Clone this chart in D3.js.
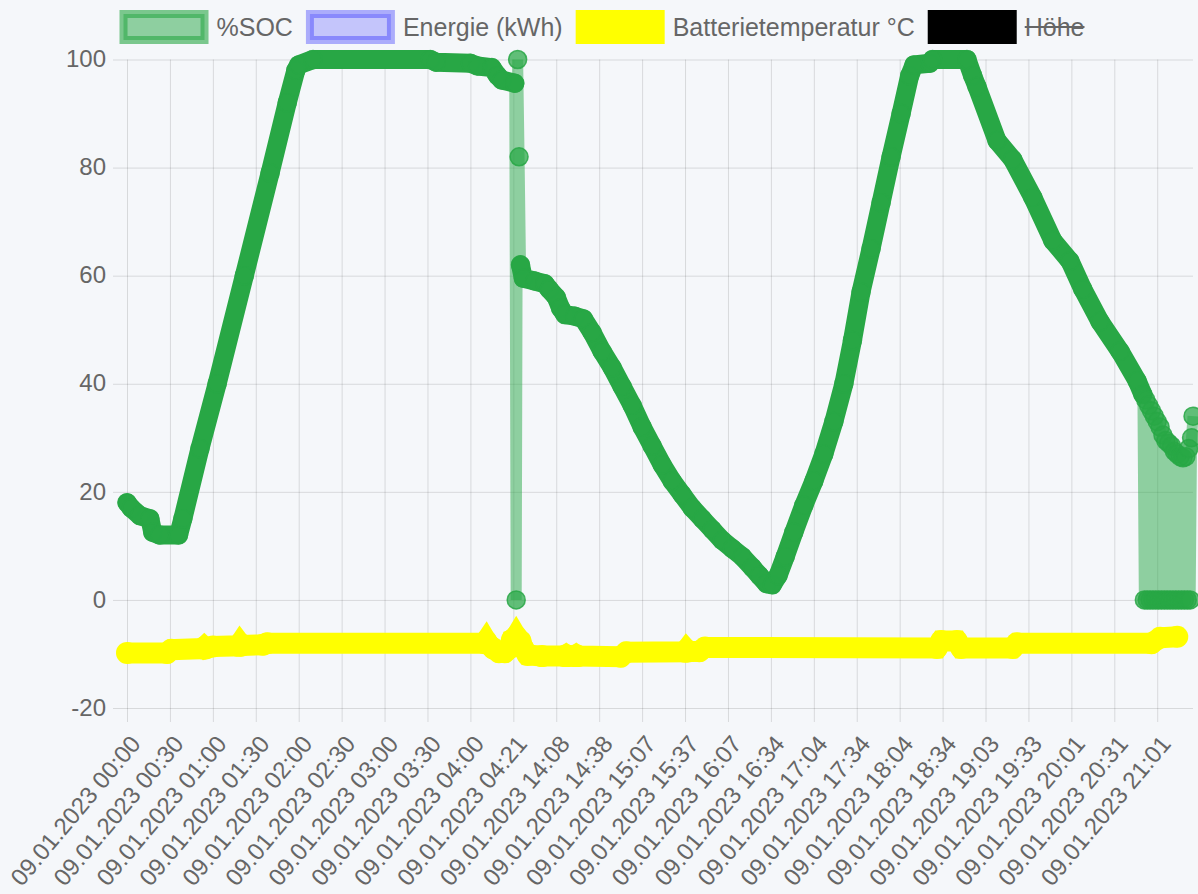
<!DOCTYPE html>
<html>
<head>
<meta charset="utf-8">
<script src="https://cdn.jsdelivr.net/npm/d3@7"></script>
<style>
	body { margin: 0; background: #f5f7fa; }
	svg { display: block; font-family: "Liberation Sans", Arial, sans-serif; }
</style>
</head>
<body>
<div id="chart"></div>
<script>
// x labels shown on the category axis (every 30th sample)
const tickLabels = [
	"09.01.2023 00:00", "09.01.2023 00:30", "09.01.2023 01:00", "09.01.2023 01:30",
	"09.01.2023 02:00", "09.01.2023 02:30", "09.01.2023 03:00", "09.01.2023 03:30",
	"09.01.2023 04:00", "09.01.2023 04:21", "09.01.2023 14:08", "09.01.2023 14:38",
	"09.01.2023 15:07", "09.01.2023 15:37", "09.01.2023 16:07", "09.01.2023 16:34",
	"09.01.2023 17:04", "09.01.2023 17:34", "09.01.2023 18:04", "09.01.2023 18:34",
	"09.01.2023 19:03", "09.01.2023 19:33", "09.01.2023 20:01", "09.01.2023 20:31",
	"09.01.2023 21:01"
];
const tickStep = 30;
const lastIndex = 745;
const yTicks = [-20, 0, 20, 40, 60, 80, 100];

const seriesNames = ["%SOC", "Energie (kWh)", "Batterietemperatur °C", "Höhe"];
const hiddenSeries = ["Höhe"];

// %SOC readings: [sample index, value]
const socPoints = [
	[0, 18], [3, 17], [9, 15.6], [16, 15], [18, 12.5], [23, 12], [36, 12], [39, 15],
	[51, 28], [63, 40], [82, 60], [100, 79], [112, 92], [118, 98], [120, 99], [130, 100],
	[212, 100], [216, 99.5], [240, 99.3], [245, 98.8], [255, 98.5], [259, 97], [262, 96.2], [271, 95.6],
	[272, 0], [273, 100], [274, 82], [275, 62],
	[277, 59.5], [285, 59], [292, 58.5], [295, 57.5], [300, 56], [303, 54], [306, 52.8], [313, 52.5],
	[319, 52], [325, 49.5], [332, 46], [339, 43], [346, 39.5], [353, 36], [360, 32], [367, 28.5],
	[374, 25], [381, 22], [388, 19.5], [395, 17], [402, 15], [409, 13], [416, 11], [423, 9.5],
	[430, 8], [437, 6], [442, 4.5], [447, 3], [451, 2.8], [455, 4.5], [460, 8], [466, 12.5],
	[473, 17.5], [480, 22], [487, 27], [494, 33], [501, 40], [507, 48], [513, 57], [520, 65],
	[527, 73.5], [534, 82], [541, 90], [547, 97], [550, 99], [561, 99.3], [563, 100], [587, 100],
	[591, 97], [594, 95], [608, 85], [619, 81.5], [633, 74.5], [647, 66.5], [659, 62.7], [668, 57.5],
	[680, 51.5], [694, 46], [706, 40.5], [710, 38],
	[711, 0], [712, 37], [713, 0], [714, 36], [715, 0], [716, 35], [717, 0], [718, 34],
	[719, 0], [720, 33], [721, 0], [722, 32], [723, 0], [724, 30.5], [725, 0], [726, 29.5],
	[727, 0], [728, 29], [729, 0], [730, 28.5], [731, 0], [732, 27.5], [733, 0], [734, 27],
	[735, 0], [736, 26.5], [737, 0], [738, 26.3], [739, 0], [740, 26.5], [741, 0], [742, 28],
	[743, 0], [744, 30], [745, 34]
];

// Batterietemperatur readings: [sample index, value]
const tempPoints = [
	[0, -9.8], [28, -9.8], [31, -9.2], [53, -9.0], [54, -8.75], [55, -9.0], [60, -8.6], [78, -8.5],
	[79, -8.1], [80, -8.45], [95, -8.3], [98, -8.0], [250, -8.0], [251, -7.6], [252, -8.05], [256, -9.0],
	[260, -9.7], [264, -9.7], [267, -9.0], [269, -7.4], [271, -7.2], [272, -6.75], [273, -7.2], [275, -7.6],
	[277, -9.0], [280, -10.2], [290, -10.4], [306, -10.4], [307, -10.22], [308, -10.4], [313, -10.4], [314, -10.22],
	[315, -10.4], [345, -10.5], [349, -9.7], [390, -9.6], [391, -9.25], [392, -9.55], [400, -9.5], [404, -8.8],
	[566, -8.9], [569, -7.6], [580, -7.6], [583, -8.9], [619, -8.9], [622, -8.0], [716, -8.0], [722, -7.0],
	[734, -6.8]
];

const legendStyles = [
	{ fill: "rgba(40,167,69,0.5)", stroke: "rgba(40,167,69,0.6)" },
	{ fill: "rgba(0,0,255,0.2)", stroke: "rgba(0,0,255,0.3)" },
	{ fill: "#ffff00", stroke: "#ffff00" },
	{ fill: "#000000", stroke: "#000000" }
];

const W = 1198, H = 894;
const margin = { top: 59.5, right: 5, bottom: 186, left: 127 };
const tickLen = 14;
const textColor = "#666";
const gridColor = "rgba(0,0,0,0.12)";
const axisFont = 24;
const legendFont = 25;

const svg = d3.select("#chart").append("svg")
	.attr("width", W)
	.attr("height", H);

svg.append("rect").attr("width", W).attr("height", H).attr("fill", "#f5f7fa");

const x = d3.scaleLinear().domain([0, lastIndex]).range([margin.left, W - margin.right]);
const y = d3.scaleLinear().domain([-20, 100]).range([H - margin.bottom, margin.top]);
const tickIdx = tickLabels.map((d, i) => i * tickStep);
const plotBottom = H - margin.bottom;

// grid
svg.append("g")
	.attr("transform", "translate(" + (margin.left - tickLen) + ",0)")
	.call(d3.axisLeft(y).tickValues(yTicks)
		.tickSize(-(W - margin.right - margin.left + tickLen))
		.tickFormat(""))
	.call(g => g.select(".domain").remove())
	.call(g => g.selectAll("line").attr("stroke", gridColor));

svg.append("g")
	.attr("transform", "translate(0," + (plotBottom + tickLen) + ")")
	.call(d3.axisBottom(x).tickValues(tickIdx)
		.tickSize(-(plotBottom - margin.top + tickLen))
		.tickFormat(""))
	.call(g => g.select(".domain").remove())
	.call(g => g.selectAll("line").attr("stroke", gridColor));

// y labels
svg.append("g")
	.attr("transform", "translate(" + (margin.left - tickLen) + ",0)")
	.call(d3.axisLeft(y).tickValues(yTicks).tickSize(0).tickPadding(7).tickFormat(d => String(d)))
	.call(g => g.select(".domain").remove())
	.attr("font-size", axisFont)
	.attr("font-family", null)
	.attr("color", textColor)
	.selectAll("text").attr("dy", "0.3em");

// x labels
svg.append("g")
	.attr("transform", "translate(0," + (plotBottom + tickLen) + ")")
	.call(d3.axisBottom(x).tickValues(tickIdx).tickSize(0).tickFormat((d, i) => tickLabels[i]))
	.call(g => g.select(".domain").remove())
	.attr("font-size", axisFont)
	.attr("font-family", null)
	.attr("color", textColor)
	.selectAll("text")
	.attr("x", 0)
	.attr("y", 0)
	.attr("dy", "0.35em")
	.attr("text-anchor", "end")
	.attr("transform", "translate(8,17) rotate(-50)");

const line = d3.line().x(d => x(d[0])).y(d => y(d[1]));

// Batterietemperatur
svg.append("path")
	.datum(tempPoints)
	.attr("d", line)
	.attr("fill", "none")
	.attr("stroke", "#ffff00")
	.attr("stroke-width", 21)
	.attr("stroke-linejoin", "miter")
	.attr("stroke-miterlimit", 10);

svg.append("g").selectAll("circle")
	.data(tempPoints)
	.join("circle")
	.attr("cx", d => x(d[0]))
	.attr("cy", d => y(d[1]))
	.attr("r", 11)
	.attr("fill", "#ffff00");

// %SOC connecting line (light)
svg.append("path")
	.datum(socPoints)
	.attr("d", line)
	.attr("fill", "none")
	.attr("stroke", "rgba(40,167,69,0.5)")
	.attr("stroke-width", 11)
	.attr("stroke-linejoin", "miter")
	.attr("stroke-miterlimit", 10);

// runs of consecutive minute samples: points are packed so tight they read as one dark band
let runs = [];
let cur = null;
for (let k = 1; k < socPoints.length; k++) {
	if (socPoints[k][0] - socPoints[k - 1][0] > 1) {
		if (!cur) { cur = [socPoints[k - 1]]; runs.push(cur); }
		cur.push(socPoints[k]);
	} else {
		cur = null;
	}
}

svg.append("g").selectAll("path")
	.data(runs)
	.join("path")
	.attr("d", line)
	.attr("fill", "none")
	.attr("stroke", "#28a745")
	.attr("stroke-width", 19)
	.attr("stroke-linejoin", "round")
	.attr("stroke-linecap", "round");

svg.append("g").selectAll("circle")
	.data(socPoints)
	.join("circle")
	.attr("cx", d => x(d[0]))
	.attr("cy", d => y(d[1]))
	.attr("r", 9)
	.attr("fill", "rgba(40,167,69,0.72)")
	.attr("stroke", "rgba(40,167,69,0.85)")
	.attr("stroke-width", 1.5);

// legend
const boxW = 81, boxH = 26, boxStroke = 8, boxGap = 8, itemGap = 13, legendY = 27;
let legend = svg.append("g").attr("font-size", legendFont).attr("fill", textColor);
let items = legend.selectAll("g").data(seriesNames).join("g");
items.append("text")
	.text(d => d)
	.attr("y", legendY)
	.attr("dy", "0.35em");
let widths = [];
items.select("text").each(function () { widths.push(this.getComputedTextLength()); });
let total = d3.sum(widths) + seriesNames.length * (boxW + boxStroke + boxGap) + (seriesNames.length - 1) * itemGap;
let cx = W / 2 - total / 2 + 3;
items.each(function (d, i) {
	let g = d3.select(this).attr("transform", "translate(" + cx + ",0)");
	g.insert("rect", "text")
		.attr("x", boxStroke / 2)
		.attr("y", legendY - boxH / 2)
		.attr("width", boxW)
		.attr("height", boxH)
		.attr("fill", legendStyles[i].fill)
		.attr("stroke", legendStyles[i].stroke)
		.attr("stroke-width", boxStroke);
	let tx = boxW + boxStroke + boxGap;
	g.select("text").attr("x", tx);
	if (hiddenSeries.includes(d)) {
		g.append("line")
			.attr("x1", tx).attr("x2", tx + widths[i])
			.attr("y1", legendY).attr("y2", legendY)
			.attr("stroke", textColor)
			.attr("stroke-width", 2);
	}
	cx += boxW + boxStroke + boxGap + widths[i] + itemGap;
});
</script>
</body>
</html>
